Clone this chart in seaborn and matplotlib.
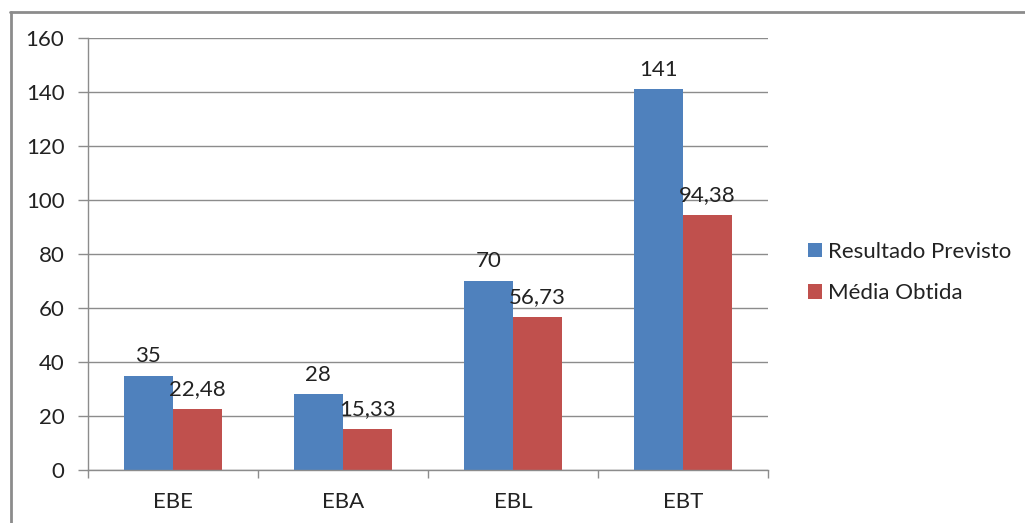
import pandas as pd
import matplotlib.pyplot as plt
import seaborn as sns
from matplotlib.lines import Line2D
from matplotlib.patches import Patch

# Chart data
testes = ["EBE", "EBA", "EBL", "EBT"]
previsto = [35, 28, 70, 141]
obtida = [22.48, 15.33, 56.73, 94.38]
series = ["Resultado Previsto", "Média Obtida"]
cores = ["#4F81BD", "#C0504D"]
y_ticks = [0, 20, 40, 60, 80, 100, 120, 140, 160]

df = pd.DataFrame({
    "teste": testes * 2,
    "valor": previsto + obtida,
    "serie": [series[0]] * len(testes) + [series[1]] * len(testes),
})

sns.set_style("white")
plt.rcParams["font.family"] = ["Lato", "DejaVu Sans"]
plt.rcParams["font.size"] = 16

fig = plt.figure(figsize=(10.25, 5.23), dpi=100)
ax = fig.add_axes([88 / 1025, 1 - 470 / 523, 680 / 1025, 432 / 523])

sns.barplot(data=df, x="teste", y="valor", hue="serie", palette=cores,
            width=0.58, saturation=1, linewidth=0, ax=ax, legend=False)

# Value labels (comma as decimal separator)
def fmt(v):
    return f"{v:g}".replace(".", ",")

for cont, vals in zip(ax.containers, [previsto, obtida]):
    ax.bar_label(cont, labels=[fmt(v) for v in vals], padding=7,
                 fontsize=16, color="#222222")

ax.set_ylim(0, 160)
ax.set_yticks(y_ticks)
ax.set_xlim(-0.5, len(testes) - 0.5)
ax.set_xlabel("")
ax.set_ylabel("")

# Grid and axes styling
ax.yaxis.grid(True, color="#8c8c8c", linewidth=1)
ax.set_axisbelow(True)
for s in ["top", "right"]:
    ax.spines[s].set_visible(False)
for s in ["left", "bottom"]:
    ax.spines[s].set_color("#8c8c8c")
    ax.spines[s].set_linewidth(1)

ax.tick_params(axis="y", length=7, width=1, color="#8c8c8c", pad=10,
               labelsize=16, labelcolor="#222222", left=True)
ax.set_xticks([i - 0.5 for i in range(len(testes) + 1)], minor=True)
ax.tick_params(axis="x", which="major", length=0, pad=16, labelsize=16,
               labelcolor="#222222")
ax.tick_params(axis="x", which="minor", length=6, width=1, color="#8c8c8c",
               bottom=True)

# Legend
handles = [Patch(facecolor=c, edgecolor="none") for c in cores]
fig.legend(handles, series, loc="center left",
           bbox_to_anchor=(808 / 1025, 1 - 272.5 / 523), frameon=False,
           fontsize=16, handlelength=0.63, handleheight=0.63,
           handletextpad=0.28, labelspacing=0.96, borderpad=0,
           borderaxespad=0, labelcolor="#222222")

# Outer chart border (left and top visible)
fig.add_artist(Line2D([10.5 / 1025, 10.5 / 1025], [0, 1 - 12 / 523],
                      transform=fig.transFigure, color="#8c8c8c", lw=2))
fig.add_artist(Line2D([10 / 1025, 1], [1 - 12 / 523, 1 - 12 / 523],
                      transform=fig.transFigure, color="#8c8c8c", lw=2))

plt.savefig("out.png", dpi=100)
